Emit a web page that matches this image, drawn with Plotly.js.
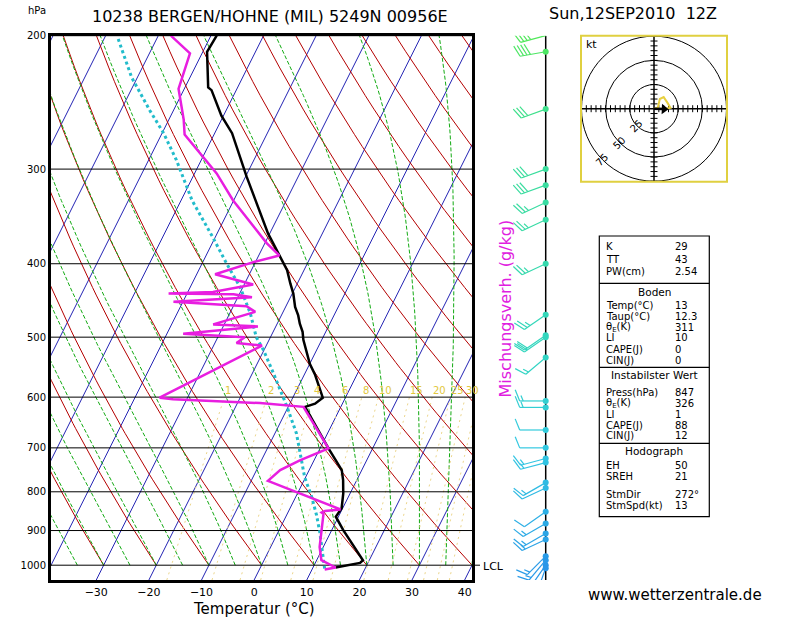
<!DOCTYPE html>
<html><head><meta charset="utf-8">
<script src="https://cdn.plot.ly/plotly-3.0.1.min.js"></script>
<style>html,body{margin:0;padding:0;background:#fff}#chart{width:800px;height:618px}</style>
</head><body><div id="chart"></div>
<script>
// ---------------- DATA ----------------
const pressureTicks = [200,300,400,500,600,700,800,900,1000];
const tempTicks = [-30,-20,-10,0,10,20,30,40];
const isothermValues = [-90,-80,-70,-60,-50,-40,-30,-20,-10,0,10,20,30,40];
const dryAdiabatValues = [-40,-30,-20,-10,0,10,20,30,40,50,60,70,80,90,100,110,120,130,140,150];
const moistAdiabatValues = [-40,-35,-30,-25,-20,-15,-10,-5,0,5,10,15,20,25,30,35,40];
const mixingRatioValues = [1,2,3,4,6,8,10,15,20,25,30,35,40];

const tempP = [200,210,234,236,255,269,307,330,347,365,376,390,400,408,425,438,456,468,480,492,504,520,542,561,582,601,612,618,701,719,749,772,804,841,863,899,985,993,1007];
const tempT = [-58.9,-59.2,-55.6,-54.7,-50.4,-46.7,-39.8,-35.8,-33.1,-30.3,-28.4,-26.0,-24.5,-23.2,-21.3,-19.8,-18.2,-16.8,-15.7,-14.4,-13.5,-12.0,-10.0,-7.9,-6.0,-4.3,-5.2,-6.8,1.6,3.3,6.2,7.4,8.7,9.8,9.5,12.2,18.8,18.5,14.3];

const dewP = [200,211,235,258,270,289,304,330,356,376,390,398,413,426,436,438,439,443,449,455,463,481,484,495,500,509,513,601,604,610,611,618,701,727,749,774,798,844,848,852,856,946,985,1007,1013];
const dewT = [-67.6,-62.3,-61.1,-57.2,-55.6,-49.9,-45.8,-40.1,-33.9,-29.6,-26.1,-30.4,-36.5,-28.3,-35.2,-43.5,-31.1,-27.3,-41.8,-27.5,-25.3,-32.1,-23.4,-36.9,-24.9,-25.9,-20.8,-35.3,-32.6,-19.6,-15.7,-7.1,1.6,-2.7,-5.5,-6.8,-1.1,9.7,6.9,6.4,6.9,9.3,10.9,14.3,12.4];

const parcelP = [202,227,251,269,292,330,370,400,429,465,500,520,558,600,617,670,765,812,859,904,955,1010];
const parcelT = [-77.3,-71.1,-64.5,-59.7,-54.7,-47.9,-40.3,-35.3,-30.6,-26.1,-22.7,-20.1,-16.0,-11.9,-10.3,-5.9,-0.2,3.0,5.7,7.9,10.1,12.3];

const windP   = [200,210,250,300,315,332,350,400,467,497,500,532,607,619,663,700,723,732,778,791,850,881,908,925,973,985,1000,1009];
const windDir = [255,260,250,250,250,245,245,245,235,235,235,230,270,270,270,270,255,255,240,245,235,240,240,245,225,220,215,200];
const windSpd = [35,40,30,30,30,25,25,25,25,20,20,15,15,15,10,10,15,15,15,10,10,15,15,15,15,15,20,10];

const hodoU = [0,4,6,10,14,17,12,6];
const hodoV = [0,1,10,12,6,1,0,0];
const hodoRings = [25,50,75];
const stormDir = 272, stormSpd = 13;

const tableLabels = ["K","TT","PW(cm)","Temp(°C)","Taup(°C)","θ<sub>E</sub>(K)","LI","CAPE(J)","CIN(J)","Press(hPa)","θ<sub>E</sub>(K)","LI","CAPE(J)","CIN(J)","EH","SREH","StmDir","StmSpd(kt)"];
const tableValues = ["29","43","2.54","13","12.3","311","10","0","0","847","326","1","88","12","50","21","272°","13"];
const tableHeaders = ["Boden","Instabilster Wert","Hodograph"];

const titleLeft = "10238 BERGEN/HOHNE (MIL) 5249N 00956E";
const titleRight = "Sun,12SEP2010  12Z";

// ---------------- GEOMETRY ----------------
const W = 800, H = 618;
const PL = 51, PR = 472, PT = 35.7, PB = 580;
const P_BOT = 1046, P_TOP = 200;
const K = 31.3;
const X_MIN = -38.6, X_MAX = 41.4;
const FONT = "DejaVu Sans";
const PX_PER_LOG10 = (PB - PT) / (Math.log10(P_BOT) - Math.log10(P_TOP));
const STAFF_X = 545.7;

function X(T, p) { return T + K * Math.log(P_BOT / p); }
function fx(x) { return x / W; }
function fy(y) { return 1 - y / H; }

const traces = [];

// isotherms
(function () {
  const xs = [], ys = [];
  isothermValues.forEach(t => { xs.push(X(t, P_BOT), X(t, P_TOP), null); ys.push(P_BOT, P_TOP, null); });
  traces.push({ x: xs, y: ys, mode: 'lines', line: { color: '#2424b4', width: 1 }, hoverinfo: 'skip' });
})();

// dry adiabats
(function () {
  const xs = [], ys = [];
  dryAdiabatValues.forEach(t0 => {
    for (let p = 1000; p >= 200; p -= 10) {
      const T = (t0 + 273.15) * Math.pow(p / 1000, 0.2857) - 273.15;
      xs.push(X(T, p)); ys.push(p);
    }
    xs.push(null); ys.push(null);
  });
  traces.push({ x: xs, y: ys, mode: 'lines', line: { color: '#b40000', width: 1 }, hoverinfo: 'skip' });
})();

// moist adiabats
function dTdp(T, p) {
  const Tc = T - 273.15;
  const es = 6.112 * Math.exp(17.67 * Tc / (Tc + 243.5));
  const rs = 0.622 * es / (p - es);
  const Lv = 2.501e6, Rd = 287.04, cp = 1005.7;
  return (Rd * T + Lv * rs) / (p * (cp + Lv * Lv * rs * 0.622 / (Rd * T * T)));
}
(function () {
  const xs = [], ys = [];
  moistAdiabatValues.forEach(tw => {
    let T = tw + 273.15, p = 1000; const dp = -5;
    xs.push(X(tw, p)); ys.push(p);
    while (p > 200) {
      const k1 = dTdp(T, p);
      const k2 = dTdp(T + k1 * dp / 2, p + dp / 2);
      T += k2 * dp; p += dp;
      xs.push(X(T - 273.15, p)); ys.push(p);
    }
    xs.push(null); ys.push(null);
  });
  traces.push({ x: xs, y: ys, mode: 'lines', line: { color: '#12aa12', width: 1, dash: '4px,2px' }, hoverinfo: 'skip' });
})();

// mixing ratio lines
function mixT(w, p) { const e = w * p / (622 + w); const a = Math.log(e / 6.112); return 243.5 * a / (17.67 - a); }
const annotations = [];
(function () {
  const xs = [], ys = [];
  mixingRatioValues.forEach(w => {
    for (let p = P_BOT; p >= 600; p -= 8) { xs.push(X(mixT(w, p), p)); ys.push(p); }
    xs.push(X(mixT(w, 600), 600)); ys.push(600);
    xs.push(null); ys.push(null);
    const pL = 588.6;
    let xl = X(mixT(w, pL), pL);
    let yl = pL;
    if (xl > 41.5) {
      let lo = pL, hi = P_BOT;
      for (let i = 0; i < 40; i++) { const m = (lo + hi) / 2; if (X(mixT(w, m), m) > 40) lo = m; else hi = m; }
      yl = (lo + hi) / 2; xl = 42.6;
    }
    annotations.push({ x: xl, y: Math.log10(yl), xref: 'x', yref: 'y', text: String(w), showarrow: false,
      xanchor: 'left', xshift: -3, font: { family: FONT, size: 10, color: '#e2c840' } });
  });
  traces.push({ x: xs, y: ys, mode: 'lines', line: { color: '#ecd68c', width: 1, dash: '2px,4px' }, hoverinfo: 'skip' });
})();

// pressure lines
(function () {
  const xs = [], ys = [];
  pressureTicks.forEach(p => { xs.push(X_MIN, X_MAX, null); ys.push(p, p, null); });
  traces.push({ x: xs, y: ys, mode: 'lines', line: { color: '#000', width: 1 }, hoverinfo: 'skip' });
})();

// parcel, temperature, dewpoint
traces.push({ x: parcelT.map((t, i) => X(t, parcelP[i])), y: parcelP, mode: 'lines',
  line: { color: '#22bccb', width: 3, dash: 'dot' }, hoverinfo: 'skip' });
traces.push({ x: tempT.map((t, i) => X(t, tempP[i])), y: tempP, mode: 'lines',
  line: { color: '#000', width: 2.5 }, hoverinfo: 'skip' });
traces.push({ x: dewT.map((t, i) => X(t, dewP[i])), y: dewP, mode: 'lines',
  line: { color: '#e81ee0', width: 2.5 }, hoverinfo: 'skip' });

// ---------- wind barbs (x3 pixel axis, shared log pressure axis) ----------
traces.push({ x: [STAFF_X, STAFF_X], y: [P_TOP, P_BOT], xaxis: 'x3', yaxis: 'y', mode: 'lines',
  line: { color: '#000', width: 1.5 }, hoverinfo: 'skip' });
traces.push({ x: [PR, 480], y: [1000, 1000], xaxis: 'x3', yaxis: 'y', mode: 'lines',
  line: { color: '#000', width: 1 }, hoverinfo: 'skip' });

function barbColor(p) {
  const stops = [[200, [80, 232, 90]], [260, [60, 222, 150]], [500, [50, 214, 190]], [700, [50, 200, 225]], [1000, [40, 150, 232]]];
  for (let i = 0; i < stops.length - 1; i++) {
    if (p <= stops[i + 1][0]) {
      const f = Math.max(0, (p - stops[i][0]) / (stops[i + 1][0] - stops[i][0]));
      const c = stops[i][1].map((v, k) => Math.round(v + f * (stops[i + 1][1][k] - v)));
      return 'rgb(' + c.join(',') + ')';
    }
  }
  return 'rgb(40,150,232)';
}
windP.forEach((p0, i) => {
  const r = windDir[i] * Math.PI / 180;
  const s = [Math.sin(r), -Math.cos(r)];
  const n = [Math.cos(r), Math.sin(r)];
  const a = 68 * Math.PI / 180;
  const f = [Math.sin(a) * n[0] + Math.cos(a) * s[0], Math.sin(a) * n[1] + Math.cos(a) * s[1]];
  const L = 26, FL = 12, SP = 3.5;
  const xs = [], ys = [];
  const toP = dy => p0 * Math.pow(10, dy / PX_PER_LOG10);
  const seg = (ax, ay, bx, by) => { xs.push(STAFF_X + ax, STAFF_X + bx, null); ys.push(toP(ay), toP(by), null); };
  seg(0, 0, s[0] * L, s[1] * L);
  let rem = Math.round(windSpd[i] / 5) * 5, pos = L;
  while (rem >= 10) { const bx = s[0] * pos, by = s[1] * pos; seg(bx, by, bx + f[0] * FL, by + f[1] * FL); rem -= 10; pos -= SP; }
  if (rem >= 5) { if (pos === L) pos -= SP; const bx = s[0] * pos, by = s[1] * pos; seg(bx, by, bx + f[0] * FL / 2, by + f[1] * FL / 2); }
  const col = barbColor(p0);
  traces.push({ x: xs, y: ys, xaxis: 'x3', yaxis: 'y', mode: 'lines', line: { color: col, width: 1.2 }, hoverinfo: 'skip' });
  traces.push({ x: [STAFF_X], y: [p0], xaxis: 'x3', yaxis: 'y', mode: 'markers', cliponaxis: false,
    marker: { color: col, size: 6 }, hoverinfo: 'skip' });
});

// ---------- hodograph ----------
const stormU = -stormSpd * Math.sin(stormDir * Math.PI / 180);
const stormV = -stormSpd * Math.cos(stormDir * Math.PI / 180);
(function () {
  const R = hodoRings[hodoRings.length - 1];
  const tx = [], ty = [];
  for (let v = -R; v <= R; v += 5) { if (v !== 0) { tx.push(v); ty.push(0); } }
  traces.push({ x: tx, y: ty, xaxis: 'x4', yaxis: 'y4', mode: 'markers', hoverinfo: 'skip',
    marker: { symbol: 'line-ns', size: 5, line: { width: 1, color: '#000' } } });
  traces.push({ x: ty, y: tx, xaxis: 'x4', yaxis: 'y4', mode: 'markers', hoverinfo: 'skip',
    marker: { symbol: 'line-ew', size: 5, line: { width: 1, color: '#000' } } });
  traces.push({ x: [-R, R, null, 0, 0], y: [0, 0, null, -R, R], xaxis: 'x4', yaxis: 'y4', mode: 'lines',
    line: { color: '#000', width: 1.5 }, hoverinfo: 'skip' });
  traces.push({ x: hodoU, y: hodoV, xaxis: 'x4', yaxis: 'y4', mode: 'lines',
    line: { color: '#e8d040', width: 2 }, hoverinfo: 'skip' });
  traces.push({ x: [0, stormU * 0.75], y: [0, stormV * 0.75], xaxis: 'x4', yaxis: 'y4', mode: 'lines', hoverinfo: 'skip',
    line: { color: '#000', width: 2.5 } });
  traces.push({ x: [stormU * 0.8], y: [stormV * 0.8], xaxis: 'x4', yaxis: 'y4', mode: 'markers', hoverinfo: 'skip',
    cliponaxis: false,
    marker: { symbol: 'triangle-up', angle: stormDir - 180, size: 9, color: '#000' } });
})();

// ---------- shapes ----------
const shapes = [];
hodoRings.forEach(r => shapes.push({ type: 'circle', xref: 'x4', yref: 'y4', x0: -r, y0: -r, x1: r, y1: r,
  line: { color: '#000', width: 1 } }));
shapes.push({ type: 'rect', xref: 'paper', yref: 'paper', x0: fx(581), x1: fx(727), y0: fy(181.7), y1: fy(35.7),
  line: { color: '#e0d040', width: 2 } });
shapes.push({ type: 'rect', xref: 'paper', yref: 'paper', x0: fx(599.3), x1: fx(709.3), y0: fy(516.7), y1: fy(236),
  line: { color: '#000', width: 1.2 } });
[283.3, 367.3, 443.3].forEach(y => shapes.push({ type: 'line', xref: 'paper', yref: 'paper', x0: fx(599.3), x1: fx(709.3),
  y0: fy(y), y1: fy(y), line: { color: '#000', width: 1.2 } }));

// ---------- annotations ----------
const txt = (x, y, text, size, extra) => Object.assign({ xref: 'paper', yref: 'paper', x: fx(x), y: fy(y), text: text,
  showarrow: false, xanchor: 'center', yanchor: 'middle', font: { family: FONT, size: size, color: '#000' } }, extra || {});

annotations.push(txt(270, 16.5, titleLeft, 16));
annotations.push(txt(633, 13, titleRight, 16));
annotations.push(txt(37, 11, 'hPa', 10));
annotations.push(txt(254, 608.5, 'Temperatur (°C)', 15));
annotations.push(txt(504.5, 309, 'Mischungsverh. (g/kg)', 16, { textangle: -90, font: { family: FONT, size: 16, color: '#e01ee0' } }));
annotations.push(txt(675, 595, 'www.wetterzentrale.de', 15));
annotations.push(txt(493, 566, 'LCL', 11));
annotations.push(txt(591, 44, 'kt', 11));

const rowY = [246.7, 259.7, 271.7, 305.7, 316.3, 327, 337.7, 349, 360, 392.7, 403.3, 414.3, 425.3, 436, 465, 476, 494, 505.3];
tableLabels.forEach((lab, i) => {
  annotations.push(txt(604, rowY[i], lab, 10, { xanchor: 'left' }));
  annotations.push(txt(672.5, rowY[i], tableValues[i], 10, { xanchor: 'left' }));
});
[291.7, 375, 451].forEach((y, i) => annotations.push(txt(654.3, y, tableHeaders[i], 10.5)));

hodoRings.forEach(r => annotations.push({ xref: 'x4', yref: 'y4', x: -0.707 * r, y: -0.707 * r, text: String(r),
  showarrow: false, textangle: -45, font: { family: FONT, size: 10, color: '#000' } }));

// ---------- layout ----------
const layout = {
  width: W, height: H, margin: { l: 0, r: 0, t: 0, b: 0 },
  paper_bgcolor: '#fff', plot_bgcolor: 'rgba(0,0,0,0)', showlegend: false,
  xaxis: { domain: [fx(PL), fx(PR)], range: [X_MIN, X_MAX], tickvals: tempTicks, ticks: '', showgrid: false,
    zeroline: false, showline: true, mirror: true, linewidth: 3, linecolor: '#000', anchor: 'y',
    tickfont: { family: FONT, size: 11, color: '#000' }, fixedrange: true },
  yaxis: { domain: [fy(PB), fy(PT)], type: 'log', range: [Math.log10(P_BOT), Math.log10(P_TOP)],
    tickvals: pressureTicks, ticktext: pressureTicks.map(String), ticks: '', showgrid: false, zeroline: false,
    showline: true, mirror: true, linewidth: 3, linecolor: '#000', anchor: 'x',
    tickfont: { family: FONT, size: 10, color: '#000' }, fixedrange: true },
  xaxis3: { domain: [0, 1], range: [0, W], visible: false, anchor: 'y', fixedrange: true },
  xaxis4: { domain: [fx(581), fx(727)], range: [-75.5, 75.5], visible: false, anchor: 'y4', fixedrange: true },
  yaxis4: { domain: [fy(181.7), fy(35.7)], range: [-75.5, 75.5], visible: false, anchor: 'x4', fixedrange: true },
  shapes: shapes, annotations: annotations
};

Plotly.newPlot('chart', traces, layout, { displayModeBar: false, staticPlot: true });
</script></body></html>
